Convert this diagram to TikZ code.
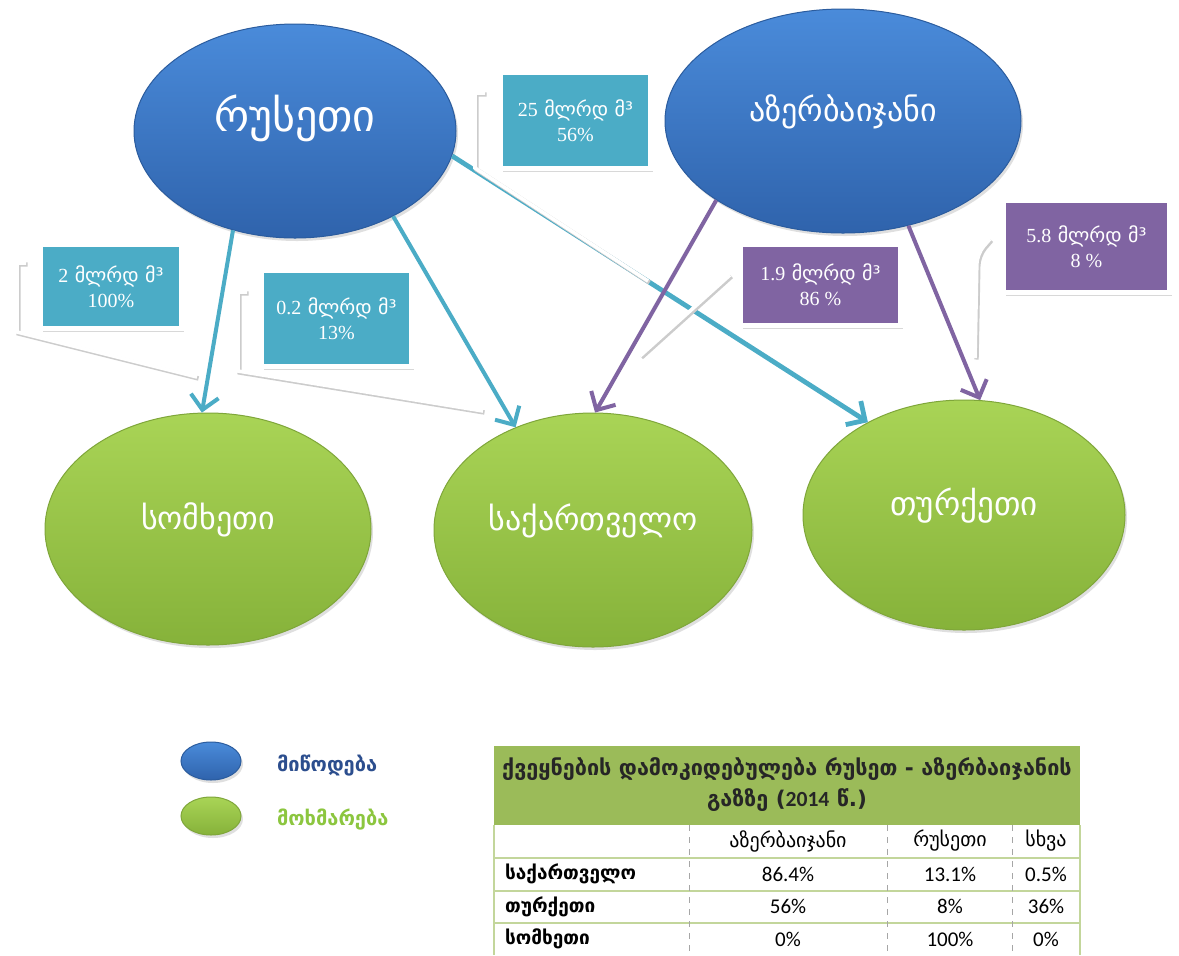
\documentclass[tikz,border=0pt]{standalone}
\usepackage{fontspec}
\setmainfont{DejaVu Sans}
\newfontfamily\numfont{Carlito}
\newfontfamily\boxnumfont{Liberation Serif}
\usetikzlibrary{arrows.meta,shapes.geometric,shadows,positioning}
\definecolor{supplytop}{HTML}{4A8BDA}
\definecolor{supplybottom}{HTML}{2F63AC}
\definecolor{supplyedge}{HTML}{2B5C9E}
\definecolor{demandtop}{HTML}{A9D456}
\definecolor{demandbottom}{HTML}{86B23A}
\definecolor{demandedge}{HTML}{7FA63A}
\definecolor{flowteal}{HTML}{4BACC6}
\definecolor{flowpurple}{HTML}{8064A2}
\definecolor{legendblue}{HTML}{2C4E8E}
\definecolor{legendgreen}{HTML}{8CC63F}
\definecolor{tablegreen}{HTML}{9BBB59}
\definecolor{rowline}{HTML}{C3D69B}
\tikzset{
    %Define standard arrow tip
    >={Straight Barb[length=7pt,width=14pt]},
    %Define style for countries
    supply/.style={
           ellipse,
           draw=supplyedge, line width=0.5pt,
           top color=supplytop, bottom color=supplybottom,
           text=white,
           inner sep=0pt,
           text height=0pt, text depth=0pt,
           drop shadow={opacity=0.25,shadow xshift=1pt,shadow yshift=-1.5pt}},
    demand/.style={
           ellipse,
           draw=demandedge, line width=0.5pt,
           top color=demandtop, bottom color=demandbottom,
           text=white,
           inner sep=0pt,
           text height=0pt, text depth=0pt,
           drop shadow={opacity=0.25,shadow xshift=1pt,shadow yshift=-1.5pt}},
    %Define style for volume boxes
    flowbox/.style={
           rectangle,
           draw=white, line width=2.5pt,
           fill=flowteal,
           text=white,
           align=center,
           font=\fontsize{10}{12.5}\selectfont,
           drop shadow={opacity=0.3,shadow xshift=1pt,shadow yshift=-1.5pt}},
    azbox/.style={flowbox, fill=flowpurple},
    % Define arrow style
    pipe/.style={
           ->,
           color=flowteal,
           line width=2pt},
    azpipe/.style={pipe, color=flowpurple},
    callout/.style={
           draw=white,
           line width=1.8pt,
           preaction={draw=black!20, line width=2.2pt,
                      transform canvas={shift={(1.5,1.5)}}}},
    cell/.style={font=\numfont\fontsize{10.5}{12}\selectfont}
}
\begin{document}
\begin{tikzpicture}[x=0.5pt,y=-0.5pt]
\useasboundingbox (0,0) rectangle (1179,955);
\fill[white] (0,0) rectangle (1179,955);

% countries
\node[supply, minimum width=161pt, minimum height=107pt, font=\fontsize{22}{26}\selectfont](rus) at (295,131){რუსეთი};
\node[supply, minimum width=178pt, minimum height=112pt, font=\fontsize{16}{20}\selectfont](aze) at (843,121){აზერბაიჯანი};
\node[demand, minimum width=163pt, minimum height=116pt, font=\fontsize{16}{20}\selectfont](arm) at (208,529){სომხეთი};
\node[demand, minimum width=159pt, minimum height=117pt, font=\fontsize{16}{20}\selectfont](geo) at (593,530){საქართველო};
\node[demand, minimum width=161pt, minimum height=115pt, font=\fontsize{16.5}{20}\selectfont](tur) at (964,515){თურქეთი};

% volumes
\node[flowbox, minimum width=75pt, minimum height=48pt](b25) at (575.5,120.5){{\boxnumfont 25} მლრდ მ³\\{\boxnumfont 56\%}};
\node[flowbox, minimum width=70.5pt, minimum height=42pt](b2) at (111,286.5){{\boxnumfont 2} მლრდ მ³\\{\boxnumfont 100\%}};
\node[flowbox, minimum width=75pt, minimum height=48pt](b02) at (336.5,318.5){{\boxnumfont 0.2} მლრდ მ³\\{\boxnumfont 13\%}};
\node[azbox, minimum width=80pt, minimum height=40.5pt](b19) at (820.5,285){{\boxnumfont 1.9} მლრდ მ³\\{\boxnumfont 86 \%}};
\node[azbox, minimum width=83pt, minimum height=46pt](b58) at (1086.5,246.5){{\boxnumfont 5.8} მლრდ მ³\\{\boxnumfont 8 \%}};

% flows from Russia
\path[pipe]
	(rus.238) edge (arm.93)
	(rus.319) edge (geo.127)
	(rus.351) edge[line width=2.4pt] (tur.136);

% callouts
\coordinate (t25) at (648,281);
\coordinate (t2) at (197,377);
\coordinate (t02) at (483,411);
\coordinate (t19) at (640,356);
\coordinate (t58) at (975,358);
\draw[callout] ([shift={(-13,23)}]b25.north west) -- ++(-10,0) -- ++(0,75) -- (t25);
\draw[callout] ([shift={(-12,21)}]b2.north west) -- ++(-9,0) -- ++(0,69) -- (t2);
\draw[callout] ([shift={(-12,24)}]b02.north west) -- ++(-9,0) -- ++(0,79) -- (t02);
\draw[callout] ([shift={(-8,33)}]b19.north west) -- (t19);
\draw[callout, rounded corners=5pt] ([shift={(-11,41)}]b58.north west) -- ++(-13,15) -- (t58);

% flows from Azerbaijan
\path[azpipe]
	(aze.212) edge (geo.89)
	(aze.302) edge (tur.82);

% legend
\node[supply, minimum width=30pt, minimum height=19pt](keysupply) at (211,761){};
\node[demand, minimum width=30pt, minimum height=19pt](keydemand) at (211,816){};
\node[anchor=west, text=legendblue, font=\bfseries\fontsize{10}{12}\selectfont](keysupplytext) at (270,766){მიწოდება};
\node[anchor=west, text=legendgreen, font=\bfseries\fontsize{10}{12}\selectfont](keydemandtext) at (270,820){მოხმარება};

% table
\fill[tablegreen] (494,746) rectangle (1080,825);
\node[align=center, text=black!85, font=\bfseries\fontsize{10.8}{15.5}\selectfont](title) at (787,785){ქვეყნების დამოკიდებულება რუსეთ - აზერბაიჯანის\\გაზზე ({\numfont 2014} წ.)};
\foreach \y in {858,891,923}
	\draw[rowline, line width=0.8pt] (494,\y) -- (1080,\y);
\draw[rowline, line width=0.8pt] (494,825) -- (494,955) (1080,825) -- (1080,955);
\foreach \x in {689,887,1012}
	\draw[black!35, dashed, line width=0.4pt] (\x,825) -- (\x,955);
\node[font=\fontsize{10}{12}\selectfont](haze) at (788,841){აზერბაიჯანი};
\node[font=\fontsize{10}{12}\selectfont](hrus) at (950,841){რუსეთი};
\node[font=\fontsize{10}{12}\selectfont](hother) at (1046,841){სხვა};
\foreach \name/\az/\ru/\ot [count=\i] in {საქართველო/86.4\%/13.1\%/0.5\%, თურქეთი/56\%/8\%/36\%, სომხეთი/0\%/100\%/0\%}{
	\node[anchor=west, font=\bfseries\fontsize{9.5}{11}\selectfont](row\i) at (498,841.5+32.5*\i){\name};
	\node[cell](az\i) at (788,841.5+32.5*\i){\az};
	\node[cell](ru\i) at (950,841.5+32.5*\i){\ru};
	\node[cell](ot\i) at (1046,841.5+32.5*\i){\ot};
}
\end{tikzpicture}
\end{document}
